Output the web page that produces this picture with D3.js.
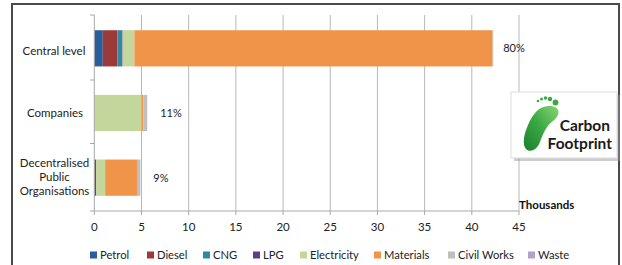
<!DOCTYPE html>
<html><head><meta charset="utf-8">
<script src="https://cdn.jsdelivr.net/npm/d3@7"></script>
<style>body{margin:0;background:#fff;}svg{display:block;font-family:Lato,"Open Sans",sans-serif;}</style>
</head><body>
<script>
const categories = ["Central level", "Companies", "Decentralised Public Organisations"];
const categoryLines = [["Central level"], ["Companies"], ["Decentralised", "Public", "Organisations"]];
const seriesNames = ["Petrol", "Diesel", "CNG", "LPG", "Electricity", "Materials", "Civil Works", "Waste"];
const seriesColors = ["#2c5d9b", "#9b3a38", "#2f8aa0", "#5f3d8e", "#c3d69b", "#f0944a", "#bfbfbf", "#b3a2c7"];
// values in thousands, per category (order of categories)
const petrol      = [0.9, 0.0, 0.02];
const diesel      = [1.55, 0.0, 0.18];
const cng         = [0.5, 0.0, 0.0];
const lpg         = [0.05, 0.0, 0.0];
const electricity = [1.25, 5.02, 0.95];
const materials   = [37.95, 0.17, 3.45];
const civilWorks  = [0.05, 0.42, 0.28];
const waste       = [0.02, 0.0, 0.0];
const shareLabels = ["80%", "11%", "9%"];
const xTicks = [0, 5, 10, 15, 20, 25, 30, 35, 40, 45];

const seriesValues = [petrol, diesel, cng, lpg, electricity, materials, civilWorks, waste];
const W = 622, H = 265;
const svg = d3.select("body").append("svg").attr("width", W).attr("height", H);

// frame
svg.append("path").attr("d", `M12,${H} V4 H619 V${H}`).attr("fill", "none").attr("stroke", "#4a4a4a").attr("stroke-width", 2);

const x = d3.scaleLinear().domain([0, 45]).range([94.3, 519]);
const y = d3.scaleBand().domain(categories).range([16, 210]).paddingInner(0.44).paddingOuter(0.22);

// gridlines
svg.append("g").selectAll("line").data(xTicks.slice(1)).join("line")
  .attr("x1", d => x(d)).attr("x2", d => x(d)).attr("y1", 15).attr("y2", 211)
  .attr("stroke", "#b8b8b8").attr("stroke-width", 1);

// stacked data
const rows = categories.map((c, i) => {
  const o = {cat: c};
  seriesNames.forEach((s, j) => o[s] = seriesValues[j][i]);
  return o;
});
const stacked = d3.stack().keys(seriesNames)(rows);
svg.append("g").selectAll("g").data(stacked).join("g")
  .attr("fill", (d, i) => seriesColors[i])
  .selectAll("rect").data(d => d).join("rect")
  .attr("x", d => x(d[0])).attr("width", d => Math.max(0, x(d[1]) - x(d[0])))
  .attr("y", d => y(d.data.cat)).attr("height", y.bandwidth());

// category axis line + ticks
const ax = svg.append("g").attr("stroke", "#a8a8a8").attr("stroke-width", 1);
ax.append("line").attr("x1", 94.3).attr("x2", 94.3).attr("y1", 15).attr("y2", 211);
const tickYs = [15, 80, 143.5, 211];
ax.selectAll(".t").data(tickYs).join("line").attr("class", "t")
  .attr("x1", 90).attr("x2", 94.3).attr("y1", d => d).attr("y2", d => d);
ax.append("line").attr("x1", 94.3).attr("x2", 519).attr("y1", 211).attr("y2", 211);
ax.selectAll(".xt").data(xTicks).join("line").attr("class", "xt")
  .attr("x1", d => x(d)).attr("x2", d => x(d)).attr("y1", 211).attr("y2", 215);

// x tick labels
svg.append("g").selectAll("text").data(xTicks).join("text")
  .attr("x", d => x(d)).attr("y", 231).attr("text-anchor", "middle")
  .attr("font-size", 11.5).attr("fill", "#222").text(d => d);

svg.append("text").attr("x", 519).attr("y", 209).attr("font-size", 11.5).attr("font-weight", "bold")
  .attr("fill", "#111").text("Thousands");

// category labels
const catCenters = [51, 113, 177];
categoryLines.forEach((lines, i) => {
  const t = svg.append("text").attr("text-anchor", "middle").attr("font-size", 11.5).attr("fill", "#222");
  const cx = lines.length > 1 ? 54.5 : (i === 0 ? 54 : 55);
  lines.forEach((l, k) => {
    t.append("tspan").attr("x", cx).attr("y", catCenters[i] + 4 + (k - (lines.length - 1) / 2) * 14).text(l);
  });
});

// share labels
const totals = rows.map(r => d3.sum(seriesNames, s => r[s]));
svg.append("g").selectAll("text").data(shareLabels).join("text")
  .attr("x", (d, i) => x(totals[i]) + (i === 0 ? 10 : 13))
  .attr("y", (d, i) => y(categories[i]) + y.bandwidth() / 2 + 4)
  .attr("font-size", 11).attr("fill", "#222").text(d => d);

// legend
const legendX = [90, 147, 203, 253, 300, 374, 448, 528];
const lg = svg.append("g").selectAll("g").data(seriesNames).join("g")
  .attr("transform", (d, i) => `translate(${legendX[i]},255)`);
lg.append("rect").attr("x", 0).attr("y", -3.5).attr("width", 7).attr("height", 7).attr("fill", (d, i) => seriesColors[i]);
lg.append("text").attr("x", 10).attr("y", 4).attr("font-size", 11.2).attr("fill", "#222").text(d => d);

// Carbon Footprint logo
const defs = svg.append("defs");
const logo = svg.append("g");
logo.append("rect").attr("x", 514).attr("y", 95).attr("width", 106).attr("height", 66).attr("fill", "#999").attr("opacity", 0.5);
logo.append("rect").attr("x", 511).attr("y", 92).attr("width", 106).attr("height", 66).attr("fill", "#fff").attr("stroke", "#ddd");
const grad = defs.append("linearGradient").attr("id", "fg").attr("x1", 1).attr("y1", 0).attr("x2", 0).attr("y2", 1);
grad.append("stop").attr("offset", 0).attr("stop-color", "#8ad66f");
grad.append("stop").attr("offset", 0.5).attr("stop-color", "#3aa845");
grad.append("stop").attr("offset", 1).attr("stop-color", "#1a7f2a");
const g = logo.append("g");
g.append("path").attr("d", "M548,106 C560,105 562,114 553,121 C546,126 543,134 540,142 C537,150 530,153 526,149 C522,144 524,134 528,125 C533,114 538,107 548,106 Z")
  .attr("fill", "url(#fg)");
const toes = [[538, 101, 1.3], [541.5, 99, 1.5], [545.5, 98, 1.8], [550, 99, 2.2], [555.5, 102.5, 2.9]];
g.selectAll("circle").data(toes).join("circle").attr("cx", d => d[0]).attr("cy", d => d[1]).attr("r", d => d[2]).attr("fill", "#3aa845");
logo.append("text").attr("x", 610).attr("y", 131).attr("text-anchor", "end").attr("font-size", 15.5).attr("font-weight", "bold").attr("fill", "#1a1a1a").text("Carbon");
logo.append("text").attr("x", 612).attr("y", 149).attr("text-anchor", "end").attr("font-size", 15.5).attr("font-weight", "bold").attr("fill", "#1a1a1a").text("Footprint");
</script>
</body></html>
